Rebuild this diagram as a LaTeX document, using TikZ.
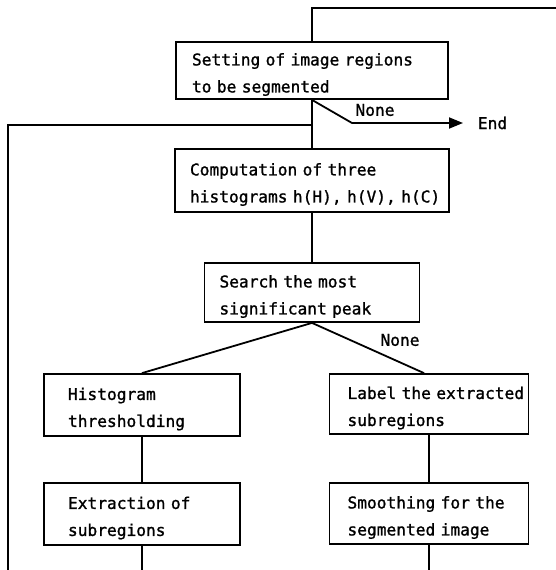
\documentclass[tikz,border=0pt]{standalone}
\usepackage{fontspec}
\newfontfamily\boxmono[FakeBold=1.2]{DejaVu Sans Mono}
\newcommand\monosetup{\boxmono\fontsize{16.2}{27}\selectfont\fontdimen2\font=9.75pt\fontdimen3\font=0pt\fontdimen4\font=0pt\relax}
\usetikzlibrary{arrows.meta}
\begin{document}
\begin{tikzpicture}[x=1pt,y=-1pt,
  line width=1.8pt,
  box/.style={draw, rectangle, inner sep=0pt, line width=1.8pt},
  txt/.style={font=\monosetup, text width=300pt, align=left, inner sep=0pt, anchor=west, yshift=-4pt},
  lbl/.style={font=\monosetup, inner sep=0pt},
  conn/.style={line width=1.8pt},
  endtip/.style={-{Triangle[length=14pt,width=11pt]}}]
\useasboundingbox (0,0) rectangle (556,570);
% boxes
\node[box, minimum width=272pt, minimum height=57pt] (b1) at (312,70.5) {};
\node[box, minimum width=274pt, minimum height=63pt] (b2) at (312,180.5) {};
\node[box, minimum width=215pt, minimum height=59pt] (b3) at (312,292.5) {};
\node[box, minimum width=196pt, minimum height=62pt] (b4) at (142,405) {};
\node[box, minimum width=196pt, minimum height=62pt] (b5) at (142,514) {};
\node[box, minimum width=199pt, minimum height=60pt] (b6) at (429,404) {};
\node[box, minimum width=199pt, minimum height=61pt] (b7) at (429,513.5) {};
% texts
\node[txt] (t1) at ([xshift=16pt]b1.west) {Setting of image regions\\to be segmented};
\node[txt] (t2) at ([xshift=15pt]b2.west) {Computation of three\\histograms h(H), h(V), h(C)};
\node[txt] (t3) at ([xshift=15pt]b3.west) {Search the most\\significant peak};
\node[txt] (t4) at ([xshift=24pt]b4.west) {Histogram\\thresholding};
\node[txt] (t5) at ([xshift=24pt]b5.west) {Extraction of\\subregions};
\node[txt] (t6) at ([xshift=18pt]b6.west) {Label the extracted\\subregions};
\node[txt] (t7) at ([xshift=18pt]b7.west) {Smoothing for the\\segmented image};
% labels
\node[lbl] (n1) at (375,110) {None};
\node[lbl] (n2) at (400,340) {None};
\node[lbl, anchor=west] (endn) at (477,123) {End};
% coordinates
\coordinate (tp) at (312,8);
\coordinate (rt) at (556,8);
\coordinate (lb) at (8,570);
\coordinate (lt) at (8,125);
\coordinate (bend) at (352,123);
\coordinate (o5) at (142,570);
\coordinate (o7) at (429,570);
% connectors
\draw[conn] (rt) -- (tp) -- (b1.north);
\draw[conn] (b1.south) -- (b2.north);
\draw[conn, endtip] (b1.south) -- (bend) -- ([xshift=-14pt]endn.west);
\draw[conn] (lb) -- (lt) -- (lt -| b1.south);
\draw[conn] (b2.south) -- (b3.north);
\draw[conn] (b3.south) -- (b4.north);
\draw[conn] (b3.south) -- ([xshift=-5pt]b6.north);
\draw[conn] (b4.south) -- (b5.north);
\draw[conn] (b6.south) -- (b7.north);
\draw[conn] (b5.south) -- (o5);
\draw[conn] (b7.south) -- (o7);
\end{tikzpicture}
\end{document}
